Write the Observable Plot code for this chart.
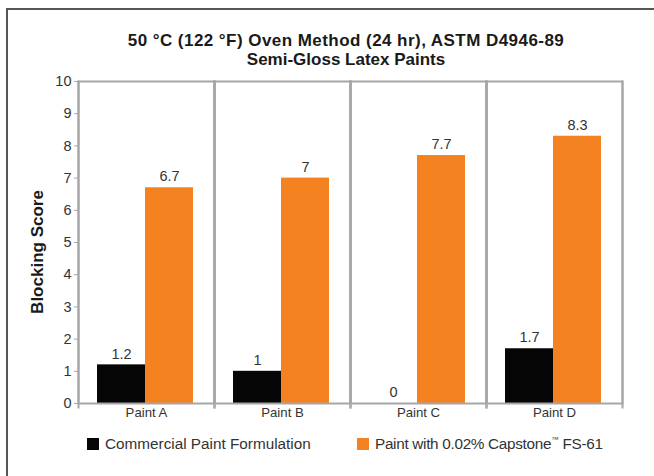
<!DOCTYPE html>
<html>
<head>
<meta charset="utf-8">
<script src="https://cdn.jsdelivr.net/npm/d3@7"></script>
<script src="https://cdn.jsdelivr.net/npm/@observablehq/plot@0.6"></script>
<style>
  html, body { margin: 0; padding: 0; background: #fff; }
  #wrap { position: relative; width: 654px; height: 476px; overflow: hidden; font-family: "Liberation Sans", Arial, sans-serif; }
  #border { position: absolute; left: 6px; top: 8px; width: 720px; height: 540px; border: 2px solid #555; box-sizing: border-box; }
  #title { position: absolute; left: 72px; top: 31px; width: 548px; text-align: center; font-weight: bold; font-size: 17px; line-height: 19px; color: #1a1a1a; }
  #title .l1 { letter-spacing: 0.45px; }
  #ylabel { position: absolute; left: 38px; top: 252px; transform: translate(-50%, -50%) rotate(-90deg); font-weight: bold; font-size: 17px; color: #1a1a1a; white-space: nowrap; }
  #chart { position: absolute; left: 0; top: 66px; }
  .leg { position: absolute; top: 436px; font-size: 15.3px; color: #333; white-space: nowrap; line-height: 16px; }
  .leg sup { font-size: 0.5em; vertical-align: 0.9em; line-height: 0; }
  .sw { display: inline-block; width: 12px; height: 12px; vertical-align: -1px; margin-right: 6px; }
</style>
</head>
<body>
<div id="wrap">
  <div id="border"></div>
  <div id="title"><span class="l1">50 °C (122 °F) Oven Method (24 hr), ASTM D4946-89</span><br>Semi-Gloss Latex Paints</div>
  <div id="ylabel">Blocking Score</div>
  <div id="chart"></div>
  <div id="legend"></div>
</div>
<script>
const paints = ["Paint A", "Paint B", "Paint C", "Paint D"];
const seriesNames = ["Commercial Paint Formulation", "Paint with 0.02% Capstone\u2122 FS-61"];
const commercial = [1.2, 1, 0, 1.7];
const capstone = [6.7, 7, 7.7, 8.3];
const yTicks = [0, 1, 2, 3, 4, 5, 6, 7, 8, 9, 10];
const seriesColors = ["#050505", "#f58220"];

const data = [];
paints.forEach((p, i) => {
  data.push({paint: p, series: seriesNames[0], value: commercial[i]});
  data.push({paint: p, series: seriesNames[1], value: capstone[i]});
});

const gray = "#a6a6a6";
const chart = Plot.plot({
  width: 654,
  height: 362,
  marginTop: 15,
  marginLeft: 77,
  marginRight: 32,
  marginBottom: 25,
  style: {fontFamily: '"Liberation Sans", Arial, sans-serif', background: "transparent"},
  fx: {domain: paints, padding: 0, label: null},
  x: {domain: seriesNames, paddingOuter: 0.39, paddingInner: 0, axis: null},
  y: {domain: [0, 10], label: null},
  color: {domain: seriesNames, range: seriesColors},
  marks: [
    Plot.barY(data, {fx: "paint", x: "series", y: "value", fill: "series", dx: -1}),
    Plot.text(data, {fx: "paint", x: "series", y: "value", text: d => String(d.value), dx: -1, dy: -11, fontSize: 14.5, fill: "#333"}),
    Plot.frame({stroke: gray, strokeWidth: 2}),
    Plot.frame({anchor: "left", stroke: gray, strokeWidth: 2, insetBottom: -4}),
    Plot.frame({anchor: "right", stroke: gray, strokeWidth: 2, insetBottom: -4}),
    Plot.axisY({ticks: yTicks, tickSize: 4, stroke: gray, fill: "#333", fontSize: 14.5, tickPadding: 3, label: null}),
    Plot.axisFx({anchor: "bottom", tickSize: 0, tickPadding: 4, fontSize: 13.2, fill: "#333", label: null})
  ]
});
document.getElementById("chart").appendChild(chart);

const legend = document.getElementById("legend");
const legX = [87, 357];
const legSpacing = ["0px", "-0.3px"];
seriesNames.forEach((s, i) => {
  const d = document.createElement("div");
  d.className = "leg";
  d.style.left = legX[i] + "px";
  d.style.letterSpacing = legSpacing[i];
  const sw = document.createElement("span");
  sw.className = "sw";
  sw.style.background = seriesColors[i];
  d.appendChild(sw);
  const parts = s.split("\u2122");
  d.appendChild(document.createTextNode(parts[0]));
  if (parts.length > 1) {
    const sup = document.createElement("sup");
    sup.textContent = "\u2122";
    d.appendChild(sup);
    d.appendChild(document.createTextNode(parts[1]));
  }
  legend.appendChild(d);
});
</script>
</body>
</html>
